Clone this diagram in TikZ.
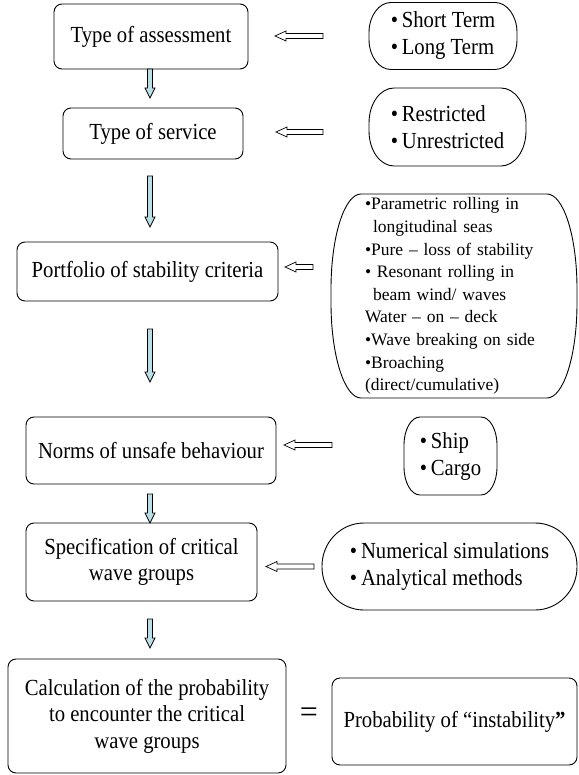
\documentclass[tikz,border=0pt]{standalone}
\usepackage{fontspec}
\setmainfont{Liberation Serif}
\newfontfamily\condfont[FakeStretch=0.9]{Liberation Serif}
\usetikzlibrary{calc}
\definecolor{arrfill}{HTML}{B9DEE5}
\tikzset{
  outl/.style={draw=black, line width=0.9pt},
  box/.style={outl, rounded corners=8pt, inner sep=0pt, outer sep=0pt, align=center,
    font=\condfont\fontsize{23}{26.5}\selectfont},
  ovalnode/.style={inner sep=0pt, outer sep=0pt, align=left, font=\condfont\fontsize{23}{27}\selectfont},
  listnode/.style={inner sep=0pt, outer sep=0pt, align=left, font=\fontsize{17.5}{22.6}\selectfont},
  barrow/.style={draw=black, line width=0.7pt, fill=arrfill, line join=miter},
  harrow/.style={draw=black, line width=0.7pt, fill=white, line join=miter},
}
% oval outline around a node: #1 node, #2 x radius, #3 y radius
\newcommand{\ovalpath}[3]{%
 \draw[outl] ($(#1.north west)+(#2,0)$) -- ($(#1.north east)+(-#2,0)$)
  .. controls ($(#1.north east)+(-0.4477*#2,0)$) and ($(#1.north east)+(0,0.4477*#3)$) .. ($(#1.north east)+(0,#3)$)
  -- ($(#1.south east)+(0,-#3)$)
  .. controls ($(#1.south east)+(0,-0.4477*#3)$) and ($(#1.south east)+(-0.4477*#2,0)$) .. ($(#1.south east)+(-#2,0)$)
  -- ($(#1.south west)+(#2,0)$)
  .. controls ($(#1.south west)+(0.4477*#2,0)$) and ($(#1.south west)+(0,-0.4477*#3)$) .. ($(#1.south west)+(0,-#3)$)
  -- ($(#1.north west)+(0,#3)$)
  .. controls ($(#1.north west)+(0,0.4477*#3)$) and ($(#1.north west)+(0.4477*#2,0)$) .. cycle;}
% filled block arrow pointing down: #1 start (x and y), #2 tip (y)
\newcommand{\downarr}[2]{%
 \draw[barrow] let \p1=(#1), \p2=(#2) in
  (\x1-2.5pt,\y1) -- (\x1-2.5pt,\y2+10pt) -- (\x1-5pt,\y2+10pt) -- (\x1,\y2)
  -- (\x1+5pt,\y2+10pt) -- (\x1+2.5pt,\y2+10pt) -- (\x1+2.5pt,\y1) -- cycle;}
% hollow block arrow pointing left: #1 tail (x and y), #2 tip (x)
\newcommand{\leftarr}[2]{%
 \draw[harrow] let \p1=(#1), \p2=(#2) in
  (\x1,\y1+2.5pt) -- (\x2+11pt,\y1+2.5pt) -- (\x2+11pt,\y1+5pt) -- (\x2,\y1)
  -- (\x2+11pt,\y1-5pt) -- (\x2+11pt,\y1-2.5pt) -- (\x1,\y1-2.5pt) -- cycle;}
\begin{document}
\begin{tikzpicture}[x=1pt,y=-1pt]
\useasboundingbox (0,0) rectangle (578,775);
\coordinate (axis) at (150,0);

% left column boxes
\node[box, minimum width=194pt, minimum height=65pt] (b1) at (151,36.5) {Type of assessment};
\node[box, minimum width=180pt, minimum height=51pt] (b2) at (153,133.5) {Type of service};
\node[box, minimum width=261pt, minimum height=59pt] (b3) at (147.5,271.5) {Portfolio of stability criteria};
\node[box, minimum width=250pt, minimum height=67pt] (b4) at (151,450.5) {Norms of unsafe behaviour};
\node[box, minimum width=231pt, minimum height=78pt] (b5) at (141.5,562) {Specification of critical\\wave groups};
\node[box, minimum width=278pt, minimum height=114pt] (b6) at (147,716) {Calculation of the probability\\to encounter the critical\\wave groups};

% result
\node[font=\fontsize{32}{32}\selectfont, inner sep=0pt] (eq) at (309,715) {=};
\node[box, minimum width=245pt, minimum height=87pt] (b7) at (454.5,721.5) {Probability of “instability\textbf{”}};

% right column ovals
\node[ovalnode, minimum width=148pt, minimum height=67pt] (s1) at (443,36) {•\,Short Term\\•\,Long Term};
\ovalpath{s1}{22}{30}
\node[ovalnode, minimum width=157pt, minimum height=78pt] (s2) at (447.5,127) {•\,Restricted\\•\,Unrestricted};
\ovalpath{s2}{25}{35}
\node[listnode, text width=178pt, minimum width=246pt, minimum height=204pt] (s3) at (454,296)
 {•Parametric rolling in\\\hspace*{8pt}longitudinal seas\\•Pure – loss of stability\\• Resonant rolling in\\\hspace*{8pt}beam wind/ waves\\Water – on – deck\\•Wave breaking on side\\•Broaching\\(direct/cumulative)};
\ovalpath{s3}{30}{95}
\node[ovalnode, minimum width=93pt, minimum height=78pt] (s4) at (450.5,456) {•\,Ship\\•\,Cargo};
\ovalpath{s4}{16}{28}
\node[ovalnode, minimum width=255pt, minimum height=87pt] (s5) at (449.5,566.5) {•\,Numerical simulations\\•\,Analytical methods};
\ovalpath{s5}{42}{43}

% vertical flow arrows
\downarr{b1.south -| axis}{$(b2.north)+(0,-10)$}
\downarr{$(b2.south -| axis)+(0,17)$}{$(b3.north)+(0,-15)$}
\downarr{$(b3.south -| axis)+(0,28)$}{$(b4.north)+(0,-35)$}
\downarr{$(b4.south -| axis)+(0,10)$}{b5.north}
\downarr{$(b5.south -| axis)+(0,18)$}{$(b6.north)+(0,-11)$}

% input arrows
\leftarr{$(s1.west)+(-46,0)$}{$(b1.east)+(27,0)$}
\leftarr{$(s2.west)+(-46,5)$}{$(b2.east)+(33,0)$}
\leftarr{$(s3.west)+(-18,-29)$}{$(b3.east)+(7,0)$}
\leftarr{$(s4.west)+(-72,-11)$}{$(b4.east)+(8,0)$}
\leftarr{$(s5.west)+(-8,0)$}{$(b5.east)+(9,0)$}
\end{tikzpicture}
\end{document}
